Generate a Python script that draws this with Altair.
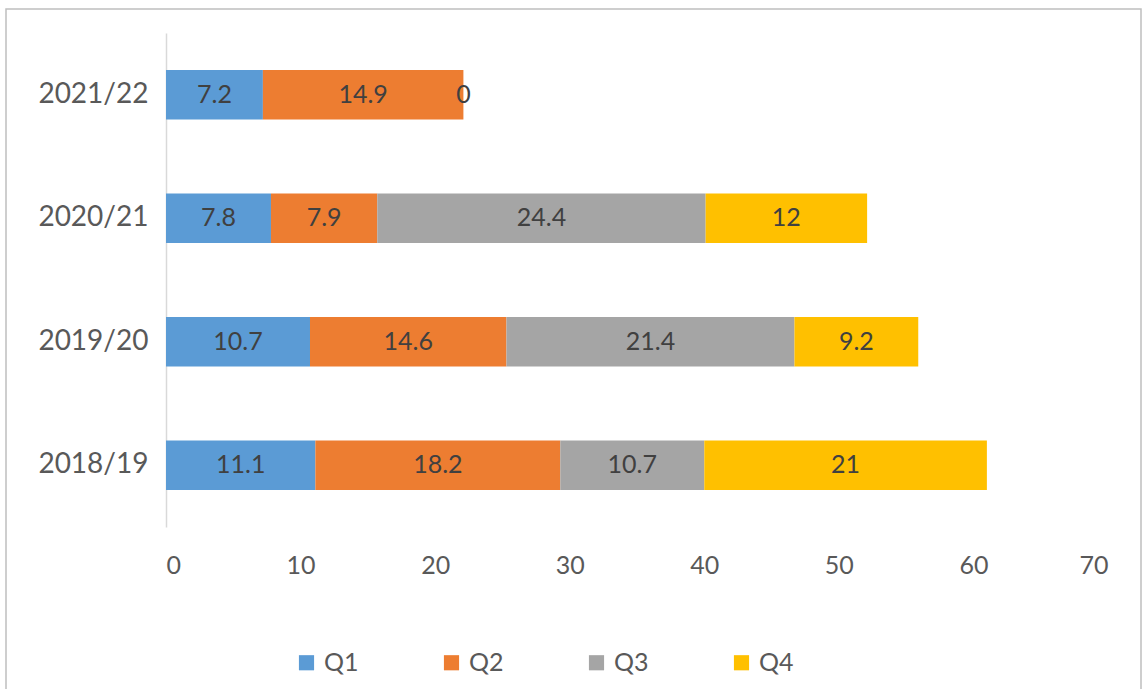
import altair as alt
import pandas as pd

years = ["2021/22", "2020/21", "2019/20", "2018/19"]
quarters = ["Q1", "Q2", "Q3", "Q4"]
q1 = [7.2, 7.8, 10.7, 11.1]
q2 = [14.9, 7.9, 14.6, 18.2]
q3 = [0, 24.4, 21.4, 10.7]
q4 = [None, 12, 9.2, 21]
colors = ["#5B9BD5", "#ED7D31", "#A5A5A5", "#FFC000"]
x_ticks = [0, 10, 20, 30, 40, 50, 60, 70]

rows = []
for i, y in enumerate(years):
    for qi, (q, vals) in enumerate(zip(quarters, [q1, q2, q3, q4])):
        v = vals[i]
        if v is None:
            continue
        rows.append({"year": y, "quarter": q, "order": qi, "value": v})
df = pd.DataFrame(rows)

FONT = "Lato"
FS = 25

base = alt.Chart(df).transform_stack(
    stack="value", groupby=["year"], as_=["x0", "x1"],
    sort=[alt.SortField("order", order="ascending")]
).transform_calculate(mid="(datum.x0 + datum.x1) / 2")

ys = alt.Y("year:N", sort=years, title=None,
           scale=alt.Scale(paddingInner=0.6, paddingOuter=0.3),
           axis=alt.Axis(domainColor="#D9D9D9", domainWidth=1.5, ticks=False,
                         labelFontSize=28, labelColor="#595959", labelFont=FONT,
                         labelPadding=18))

bars = base.mark_bar().encode(
    x=alt.X("x0:Q", title=None,
            scale=alt.Scale(domain=[0, 70], nice=False),
            axis=alt.Axis(values=x_ticks, grid=False, domain=False, ticks=False,
                          labelFontSize=FS, labelColor="#595959", labelFont=FONT,
                          labelPadding=26)),
    x2="x1:Q",
    y=ys,
    color=alt.Color("quarter:N", scale=alt.Scale(domain=quarters, range=colors),
                    legend=alt.Legend(title=None, orient="none", direction="horizontal",
                                      legendX=128, legendY=617,
                                      symbolType="square", symbolSize=230,
                                      symbolStrokeWidth=0, labelFontSize=FS,
                                      labelColor="#595959", labelFont=FONT,
                                      labelOffset=5, columnPadding=80)),
)

labels = base.mark_text(fontSize=FS, color="#404040", font=FONT).encode(
    x=alt.X("mid:Q"),
    y=alt.Y("year:N", sort=years),
    text=alt.Text("value:Q"),
)

frame = alt.Chart(pd.DataFrame({"a": [0]})).mark_rect(
    fill=None, stroke="#BFBFBF", strokeWidth=1.5, clip=False
).encode(
    x=alt.value(6 - 166), x2=alt.value(1141 - 166),
    y=alt.value(9 - 33), y2=alt.value(720 - 33),
)

chart = alt.layer(frame, bars, labels).properties(
    width=942, height=494,
    background="white",
    autosize=alt.AutoSizeParams(type="none"),
    padding={"left": 166, "top": 33, "right": 39, "bottom": 162},
).configure_view(strokeWidth=0, stroke=None)

chart.save("out.html", embed_options={"renderer": "svg", "actions": False})
